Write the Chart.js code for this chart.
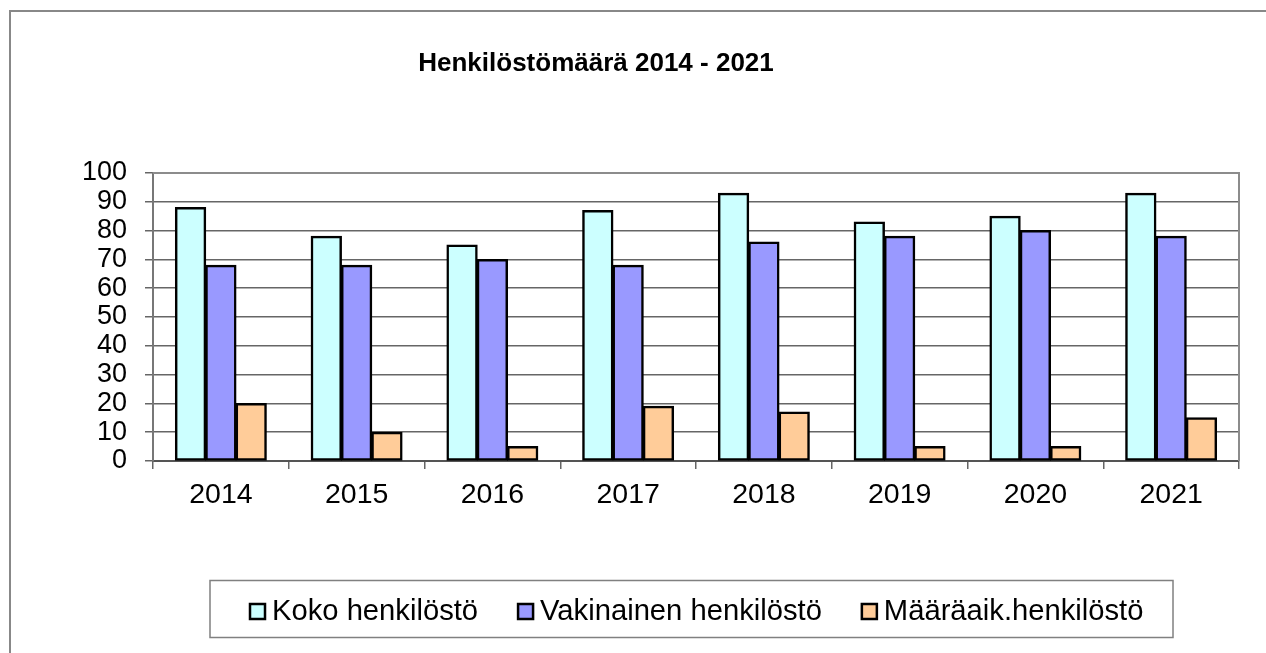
<!DOCTYPE html>
<html>
<head>
<meta charset="utf-8">
<script src="https://cdn.jsdelivr.net/npm/chart.js@4.4.0/dist/chart.umd.min.js"></script>
<style>
    body { margin: 0; background: #fff; }
    #wrap { width: 1266px; height: 653px; }
</style>
</head>
<body>
<div id="wrap"><canvas id="henkChart" width="1266" height="653"></canvas></div>
<script>
const years = ['2014', '2015', '2016', '2017', '2018', '2019', '2020', '2021'];
const kokoHenkilosto = [88, 78, 75, 87, 93, 83, 85, 93];
const vakinainen = [68, 68, 70, 68, 76, 78, 80, 78];
const maaraaikaiset = [20, 10, 5, 19, 17, 5, 5, 15];
const seriesLabels = ['Koko henkilöstö', 'Vakinainen henkilöstö', 'Määräaik.henkilöstö'];
const chartTitle = 'Henkilöstömäärä 2014 - 2021';

const fontFam = "'Liberation Sans', Arial, sans-serif";
const kokoColor = '#CCFFFF';
const vakColor = '#9999FF';
const maarColor = '#FFCC99';

// frame, title and legend box like the old office chart
const framePlugin = {
    id: 'frame',
    beforeDraw(chart) {
        const ctx = chart.ctx;
        ctx.save();
        ctx.fillStyle = '#fff';
        ctx.fillRect(0, 0, chart.width, chart.height);
        ctx.strokeStyle = '#888';
        ctx.lineWidth = 2;
        ctx.beginPath();
        ctx.moveTo(10, chart.height);
        ctx.lineTo(10, 11);
        ctx.lineTo(chart.width, 11);
        ctx.stroke();
        ctx.restore();
    },
    afterDraw(chart) {
        const ctx = chart.ctx;
        const a = chart.chartArea;
        ctx.save();
        // plot area border top / right
        ctx.strokeStyle = '#8c8c8c';
        ctx.lineWidth = 2;
        ctx.beginPath();
        ctx.moveTo(a.left, a.top);
        ctx.lineTo(a.right, a.top);
        ctx.lineTo(a.right, a.bottom);
        ctx.stroke();

        // title
        ctx.fillStyle = '#000';
        ctx.font = 'bold 26px ' + fontFam;
        ctx.textAlign = 'center';
        ctx.textBaseline = 'alphabetic';
        ctx.fillText(chartTitle, 596, 71);

        // legend
        ctx.strokeStyle = '#808080';
        ctx.lineWidth = 1.5;
        ctx.strokeRect(210, 580.5, 963, 57);
        ctx.font = '29.2px ' + fontFam;
        ctx.textAlign = 'left';
        let x = 249;
        chart.data.datasets.forEach(ds => {
            ctx.fillStyle = ds.backgroundColor;
            ctx.fillRect(x, 603, 17, 17);
            ctx.strokeStyle = '#000';
            ctx.lineWidth = 2.5;
            ctx.strokeRect(x + 1, 604, 15, 15);
            ctx.fillStyle = '#000';
            ctx.fillText(ds.label, x + 23, 620);
            x += 23 + ctx.measureText(ds.label).width + 39;
        });
        ctx.restore();
    }
};

const barData = {
    labels: years,
    datasets: [
        {
            label: seriesLabels[0],
            data: kokoHenkilosto,
            backgroundColor: kokoColor
        },
        {
            label: seriesLabels[1],
            data: vakinainen,
            backgroundColor: vakColor
        },
        {
            label: seriesLabels[2],
            data: maaraaikaiset,
            backgroundColor: maarColor
        }
    ]
};

const config = {
    type: 'bar',
    data: barData,
    options: {
        responsive: false,
        animation: false,
        datasets: {
            bar: {
                categoryPercentage: 0.67,
                barPercentage: 1.0,
                borderColor: '#000',
                borderWidth: 2.5,
                borderSkipped: false,
                inflateAmount: 0.5
            }
        },
        layout: {
            padding: { top: 173, left: 0, right: 27, bottom: 132 }
        },
        plugins: {
            legend: { display: false },
            title: { display: false },
            tooltip: { enabled: false }
        },
        scales: {
            x: {
                afterFit: (s) => { s.height = 60; },
                grid: {
                    offset: true,
                    drawOnChartArea: false,
                    color: '#666',
                    tickLength: 8,
                    lineWidth: 1.5
                },
                border: { color: '#555', width: 2 },
                ticks: {
                    color: '#000',
                    padding: 9,
                    font: { family: fontFam, size: 28.5 }
                }
            },
            y: {
                min: 0,
                max: 100,
                afterFit: (s) => { s.width = 153; },
                grid: {
                    color: '#666',
                    lineWidth: 1.5,
                    tickLength: 8
                },
                border: { color: '#777', width: 2 },
                ticks: {
                    stepSize: 10,
                    autoSkip: false,
                    color: '#000',
                    padding: 18,
                    font: { family: fontFam, size: 27 }
                }
            }
        }
    },
    plugins: [framePlugin]
};

const henkChart = new Chart(document.getElementById('henkChart'), config);
</script>
</body>
</html>
